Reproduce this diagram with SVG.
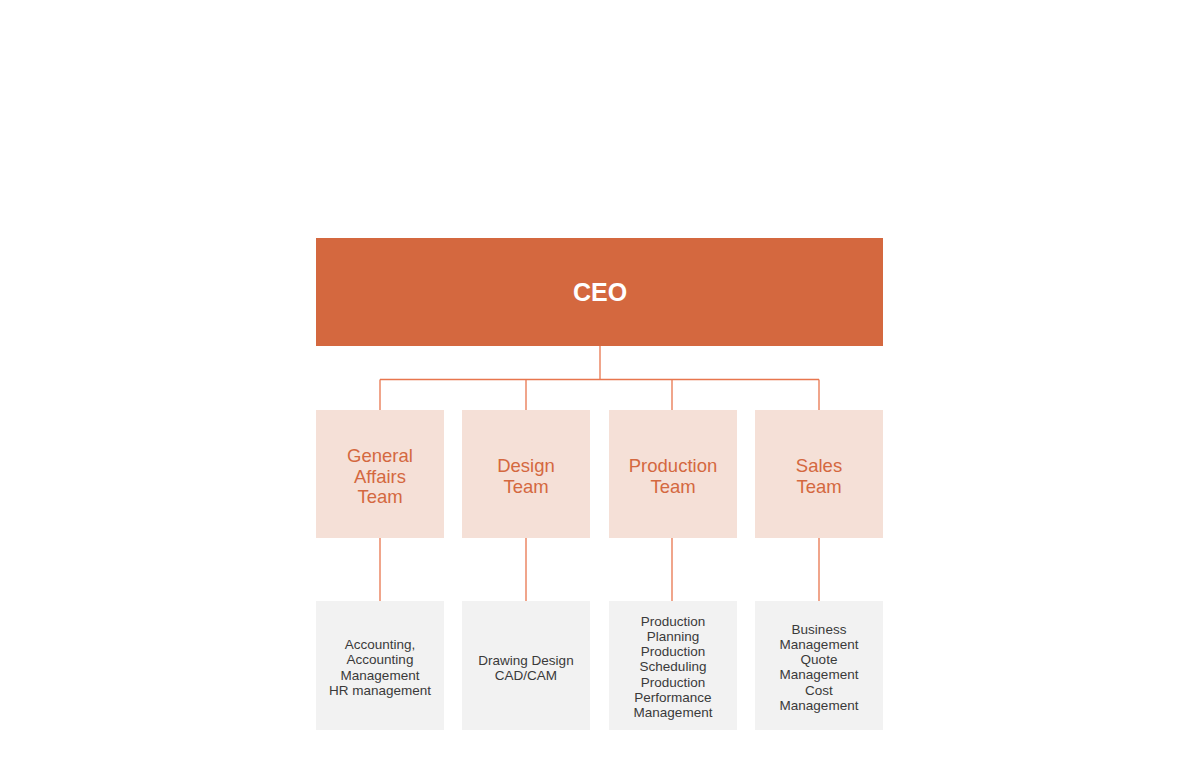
<svg xmlns="http://www.w3.org/2000/svg" width="1200" height="780" viewBox="0 0 1200 780">
<style>
.ceo{fill:#D4683F}
.team{fill:#F5E0D7}
.sub{fill:#F2F2F2}
.ceot{font-family:"Liberation Sans",Arial,sans-serif;font-size:25px;font-weight:bold;fill:#fff;text-anchor:middle}
.tt{font-family:"Liberation Sans",Arial,sans-serif;font-size:18.5px;fill:#D4683F;text-anchor:middle}
.st{font-family:"Liberation Sans",Arial,sans-serif;font-size:13.5px;fill:#3a3a3a;text-anchor:middle}
.ln{stroke:#E8764E;stroke-width:1.3;fill:none}
</style>
<rect width="1200" height="780" fill="#fff"/>
<g id="connectors" class="ln">
<path d="M600 346V379.5M380 379.5H819M380 379.5V410M526 379.5V410M672 379.5V410M819 379.5V410"/>
<path d="M380 538V601M526 538V601M672 538V601M819 538V601"/>
</g>
<g id="ceo"><rect class="ceo" x="316" y="238" width="567" height="108"/><text class="ceot" x="600" y="301">CEO</text></g>
<g id="general-affairs"><rect class="team" x="316" y="410" width="128" height="128"/><text class="tt" x="380" y="462">General<tspan x="380" dy="20.5">Affairs</tspan><tspan x="380" dy="20.5">Team</tspan></text></g>
<g id="design"><rect class="team" x="462" y="410" width="128" height="128"/><text class="tt" x="526" y="472">Design<tspan x="526" dy="20.5">Team</tspan></text></g>
<g id="production"><rect class="team" x="609" y="410" width="128" height="128"/><text class="tt" x="673" y="472">Production<tspan x="673" dy="20.5">Team</tspan></text></g>
<g id="sales"><rect class="team" x="755" y="410" width="128" height="128"/><text class="tt" x="819" y="472">Sales<tspan x="819" dy="20.5">Team</tspan></text></g>
<g id="ga-duties"><rect class="sub" x="316" y="601" width="128" height="129"/><text class="st" x="380" y="649">Accounting,<tspan x="380" dy="15.3">Accounting</tspan><tspan x="380" dy="15.3">Management</tspan><tspan x="380" dy="15.3">HR management</tspan></text></g>
<g id="design-duties"><rect class="sub" x="462" y="601" width="128" height="129"/><text class="st" x="526" y="664.5">Drawing Design<tspan x="526" dy="15.3">CAD/CAM</tspan></text></g>
<g id="production-duties"><rect class="sub" x="609" y="601" width="128" height="129"/><text class="st" x="673" y="625.5">Production<tspan x="673" dy="15.3">Planning</tspan><tspan x="673" dy="15.3">Production</tspan><tspan x="673" dy="15.3">Scheduling</tspan><tspan x="673" dy="15.3">Production</tspan><tspan x="673" dy="15.3">Performance</tspan><tspan x="673" dy="15.3">Management</tspan></text></g>
<g id="sales-duties"><rect class="sub" x="755" y="601" width="128" height="129"/><text class="st" x="819" y="633.5">Business<tspan x="819" dy="15.3">Management</tspan><tspan x="819" dy="15.3">Quote</tspan><tspan x="819" dy="15.3">Management</tspan><tspan x="819" dy="15.3">Cost</tspan><tspan x="819" dy="15.3">Management</tspan></text></g>
</svg>
